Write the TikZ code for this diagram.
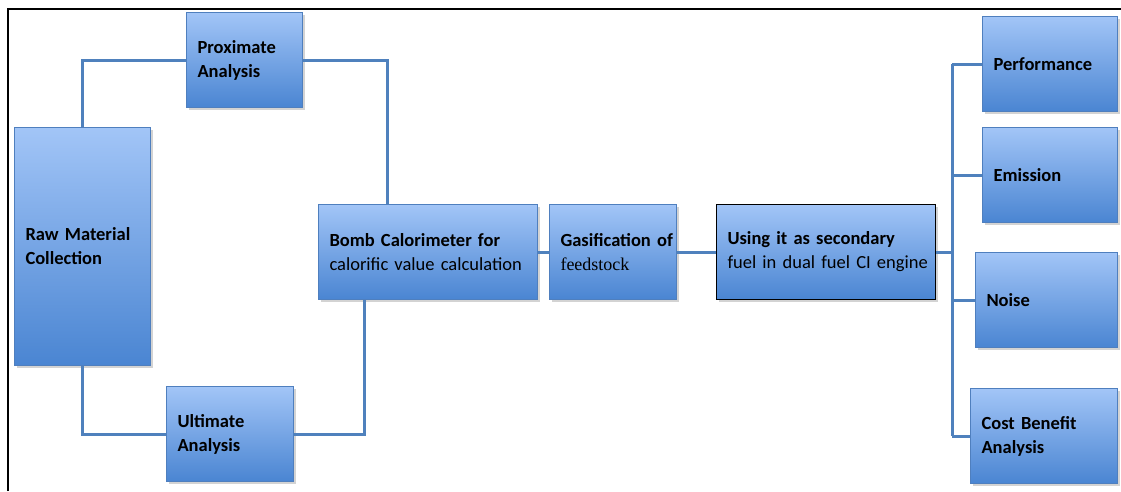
\documentclass[tikz,border=0pt]{standalone}
\usepackage{fontspec}
\setmainfont{Carlito}
\newfontfamily\fsserif{Liberation Serif}
\usetikzlibrary{shadows}
\definecolor{boxtop}{HTML}{A2C5F7}
\definecolor{boxbot}{HTML}{4A85D2}
\definecolor{boxline}{HTML}{4F7FBE}
\definecolor{conncol}{HTML}{4F81BD}
\tikzset{
  blk/.style={draw=boxline, line width=1pt, top color=boxtop, bottom color=boxbot,
    anchor=north west, inner xsep=11pt, inner ysep=0pt, align=left,
    font=\fontsize{18.5}{24}\selectfont,
    drop shadow={shadow xshift=2pt, shadow yshift=-2pt, opacity=0.35}},
  conn/.style={draw=conncol, line width=3pt},
  frame/.style={draw=black, line width=2pt}
}
\begin{document}
\begin{tikzpicture}[x=1pt,y=-1pt]
\useasboundingbox (0,0) rectangle (1121,491);
\draw[frame] (8,491) -- (8,9) -- (1121,9);
% boxes
\node[blk, minimum width=136pt, minimum height=238pt, text width=114pt] (raw) at (14,127) {\mbox{\textbf{Raw Material}}\\\mbox{\textbf{Collection}}};
\node[blk, minimum width=116pt, minimum height=95pt, text width=94pt] (prox) at (186,12) {\mbox{\textbf{Proximate}}\\\mbox{\textbf{Analysis}}};
\node[blk, minimum width=127pt, minimum height=95pt, text width=105pt] (ult) at (166,386) {\mbox{\textbf{Ultimate}}\\\mbox{\textbf{Analysis}}};
\node[blk, minimum width=219pt, minimum height=95pt, text width=197pt] (bomb) at (318,204) {\mbox{\textbf{Bomb Calorimeter for}}\\\mbox{calorific value calculation}};
\node[blk, minimum width=127pt, minimum height=95pt, text width=105pt] (gas) at (549,204) {\mbox{\textbf{Gasification of}}\\\mbox{\fsserif\fontsize{18}{24}\selectfont feedstock}};
\node[blk, draw=black, minimum width=219pt, minimum height=95pt, text width=197pt] (use) at (716,204) {\mbox{\textbf{Using it as secondary}}\\\mbox{fuel in dual fuel CI engine}};
\node[blk, minimum width=135pt, minimum height=95pt, text width=113pt] (perf) at (982,16) {\mbox{\textbf{Performance}}};
\node[blk, minimum width=135pt, minimum height=95pt, text width=113pt] (emis) at (982,127) {\mbox{\textbf{Emission}}};
\node[blk, minimum width=142pt, minimum height=95pt, text width=120pt] (noise) at (975,252) {\mbox{\textbf{Noise}}};
\node[blk, minimum width=147pt, minimum height=95pt, text width=125pt] (cost) at (970,388) {\mbox{\textbf{Cost Benefit}}\\\mbox{\textbf{Analysis}}};
% connectors
\coordinate (tk) at (952,0);
\draw[conn] (raw.north) |- (prox.west);
\draw[conn] (prox.east) -| ([xshift=69pt]bomb.north west);
\draw[conn] (raw.south) |- (ult.west);
\draw[conn] (ult.east) -| ([xshift=46pt]bomb.south west);
\draw[conn] (bomb.east) -- (gas.west);
\draw[conn] (gas.east) -- (use.west);
\draw[conn] (use.east) -- (use.east -| tk);
\draw[conn] (perf.west -| tk) -- (cost.west -| tk);
\draw[conn] (perf.west -| tk) -- (perf.west);
\draw[conn] (emis.west -| tk) -- (emis.west);
\draw[conn] (noise.west -| tk) -- (noise.west);
\draw[conn] (cost.west -| tk) -- (cost.west);
\end{tikzpicture}
\end{document}
